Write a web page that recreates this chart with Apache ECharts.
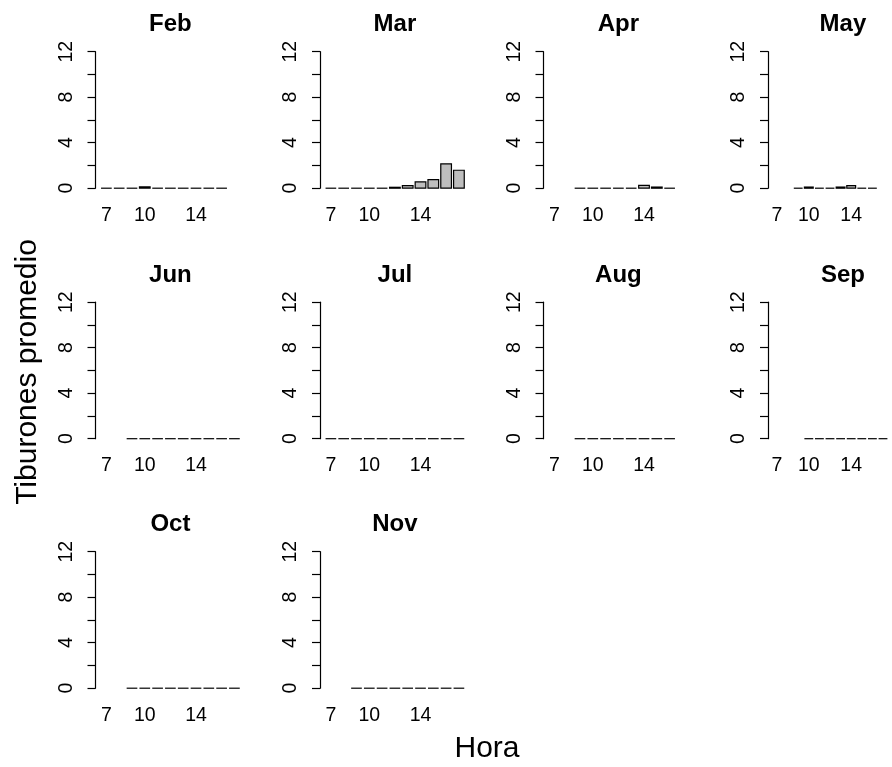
<!DOCTYPE html>
<html>
<head>
<meta charset="utf-8">
<script src="https://cdn.jsdelivr.net/npm/echarts@6/dist/echarts.min.js"></script>
<style>
html,body{margin:0;padding:0;background:#fff;}
#chart{width:892px;height:767px;}
</style>
</head>
<body>
<div id="chart"></div>
<script>
// ---- data ----
const hours = [7, 8, 9, 10, 11, 12, 13, 14, 15, 16, 17];
const months = ['Feb', 'Mar', 'Apr', 'May', 'Jun', 'Jul', 'Aug', 'Sep', 'Oct', 'Nov'];
const feb = [0, 0, 0, 0.12, 0, 0, 0, 0, 0, 0, null];
const mar = [0, 0, 0, 0, 0, 0.08, 0.23, 0.56, 0.76, 2.14, 1.58];
const apr = [null, null, 0, 0, 0, 0, 0, 0.25, 0.1, 0, null];
const may = [null, null, 0, 0.1, 0, 0, 0.1, 0.23, 0, 0, null];
const jun = [null, null, 0, 0, 0, 0, 0, 0, 0, 0, 0];
const jul = [0, 0, 0, 0, 0, 0, 0, 0, 0, 0, 0];
const aug = [null, null, 0, 0, 0, 0, 0, 0, 0, 0, null];
const sep = [null, null, null, 0, 0, 0, 0, 0, 0, 0, 0];
const oct = [null, null, 0, 0, 0, 0, 0, 0, 0, 0, 0];
const nov = [null, null, 0, 0, 0, 0, 0, 0, 0, 0, 0];
const monthValues = [feb, mar, apr, may, jun, jul, aug, sep, oct, nov];
const xTickLabels = [7, 10, 14];
const yTicks = [0, 2, 4, 6, 8, 10, 12];
const yLabelStep = 4;
const xTitle = 'Hora';
const yTitle = 'Tiburones promedio';

// ---- layout ----
const FONT = '"Liberation Sans", Arial, Helvetica, sans-serif';
const colLeft = [95.5, 320, 543.5, 768];
const rowTop = [51.7, 302.2, 551.7];
const plotW = 149.8, plotH = 136.5;
const HALF = 0.5 / 1.2;

const chart = echarts.init(document.getElementById('chart'), null, {renderer: 'canvas'});

function renderItem(params, api) {
  const h = api.value(0), v = api.value(1);
  const p0 = api.coord([h - HALF, v]);
  const p1 = api.coord([h + HALF, 0]);
  if (v === 0) {
    return {type: 'line', shape: {x1: p0[0], y1: p1[1], x2: p1[0], y2: p1[1]},
      style: {stroke: '#000', lineWidth: 1.2}};
  }
  return {type: 'rect', shape: {x: p0[0], y: p0[1], width: p1[0] - p0[0], height: p1[1] - p0[1]},
    style: {fill: '#BEBEBE', stroke: '#000', lineWidth: 1.2}};
}

const grids = [], xAxes = [], yAxes = [], series = [], graphics = [];
months.forEach((m, i) => {
  const r = Math.floor(i / 4), c = i % 4;
  grids.push({left: colLeft[c], top: rowTop[r], width: plotW, height: plotH, containLabel: false});
  xAxes.push({
    type: 'value', gridIndex: i, min: 6.15, max: 17.85,
    axisLine: {show: false}, axisTick: {show: false}, splitLine: {show: false},
    axisLabel: {customValues: xTickLabels, fontSize: 19.5, color: '#000', fontFamily: FONT, margin: 17}
  });
  yAxes.push({
    type: 'value', gridIndex: i, min: yTicks[0], max: yTicks[yTicks.length - 1], interval: 2,
    axisLine: {show: true, lineStyle: {color: '#000', width: 1.2}},
    axisTick: {show: true, length: 8, lineStyle: {color: '#000', width: 1.2}},
    splitLine: {show: false},
    axisLabel: {rotate: 90, fontSize: 19.5, color: '#000', fontFamily: FONT, margin: 19,
      formatter: v => (v % yLabelStep === 0 ? String(v) : '')}
  });
  const data = [];
  hours.forEach((h, k) => { if (monthValues[i][k] !== null) data.push([h, monthValues[i][k]]); });
  series.push({type: 'custom', xAxisIndex: i, yAxisIndex: i, renderItem: renderItem, data: data, clip: false, silent: true});
  graphics.push({type: 'text', x: colLeft[c] + plotW / 2, y: rowTop[r] - 27,
    style: {text: m, font: 'bold 24px ' + FONT, fill: '#000', textAlign: 'center', textVerticalAlign: 'middle'}});
});
graphics.push({type: 'text', x: 487, y: 749,
  style: {text: xTitle, font: '30px ' + FONT, fill: '#000', textAlign: 'center', textVerticalAlign: 'middle'}});
graphics.push({type: 'text', x: 28, y: 372, rotation: Math.PI / 2,
  style: {text: yTitle, font: '30px ' + FONT, fill: '#000', textAlign: 'center', textVerticalAlign: 'middle'}});

chart.setOption({
  animation: false,
  backgroundColor: '#fff',
  grid: grids, xAxis: xAxes, yAxis: yAxes, series: series, graphic: graphics
});
</script>
</body>
</html>
